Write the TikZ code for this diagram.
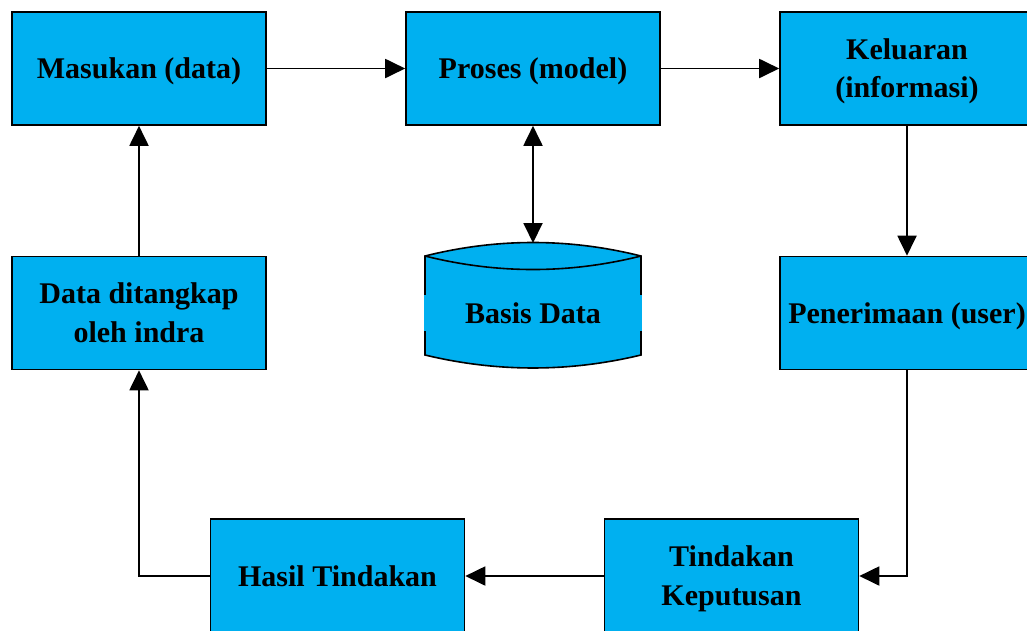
\documentclass[tikz,border=0pt]{standalone}
\usepackage{fontspec}
\setmainfont{Liberation Serif}
\usetikzlibrary{arrows.meta}
\definecolor{boxblue}{RGB}{0,176,240}
% line strut: equal for every text line, so that baselines sit a fixed
% distance below the box centre
\newcommand\linestrut{\rule[-7pt]{0pt}{34pt}}
\tikzset{
  stepbox/.style={draw=black, line width=1.6pt, fill=boxblue, rectangle,
    minimum width=254pt, minimum height=113pt, inner sep=0pt, align=center,
    font=\fontsize{30}{38.5}\selectfont\bfseries},
  lowbox/.style={stepbox, minimum height=114pt},
  flow/.style={line width=1.9pt, -{Triangle[length=20pt,width=19pt]}},
  flowboth/.style={line width=1.9pt, {Triangle[length=20pt,width=19pt]}-{Triangle[length=20pt,width=19pt]}},
  dbshape/.style={draw=black, line width=1.6pt, fill=boxblue},
  dblabel/.style={fill=boxblue, inner sep=0pt, minimum width=218pt, minimum height=36pt,
    font=\fontsize{30}{38.5}\selectfont\bfseries}
}
\begin{document}
\begin{tikzpicture}[x=1pt,y=-1pt]
\useasboundingbox (0,0) rectangle (1027,630);
\clip (0,0) rectangle (1027,630);

% process boxes
\node[stepbox] (masukan)    at (139,68.5) {\linestrut Masukan (data)};
\node[stepbox] (proses)     at (533,68.5) {\linestrut Proses (model)};
\node[stepbox] (keluaran)   at (907,68.5) {\linestrut Keluaran\\\linestrut(informasi)};
\node[stepbox] (indra)      at (139,313)  {\linestrut Data ditangkap\\\linestrut oleh indra};
\node[stepbox] (penerimaan) at (907,313)  {\linestrut Penerimaan (user)};
\node[lowbox]  (hasil)      at (337.5,576) {\linestrut Hasil Tindakan};
\node[lowbox]  (tindakan)   at (731.5,576) {\linestrut Tindakan\\\linestrut Keputusan};

% database cylinder
\draw[dbshape] (425,256) .. controls (497,238) and (569,238) .. (641,256)
  -- (641,355) .. controls (569,372.3) and (497,372.3) .. (425,355) -- cycle;
\draw[line width=1.6pt] (425,256) .. controls (497,274) and (569,274) .. (641,256);
\coordinate (dbtop) at (533,243);
\node[dblabel] (basis) at (533,313) {Basis Data};

% connectors
\draw[flow] (masukan.east) -- (proses.west);
\draw[flow] (proses.east) -- (keluaran.west);
\draw[flowboth] (proses.south) -- (dbtop);
\draw[flow] (keluaran.south) -- (penerimaan.north);
\draw[flow] (penerimaan.south) |- (tindakan.east);
\draw[flow] (tindakan.west) -- (hasil.east);
\draw[flow] (hasil.west) -| (indra.south);
\draw[flow] (indra.north) -- (masukan.south);
\end{tikzpicture}
\end{document}
